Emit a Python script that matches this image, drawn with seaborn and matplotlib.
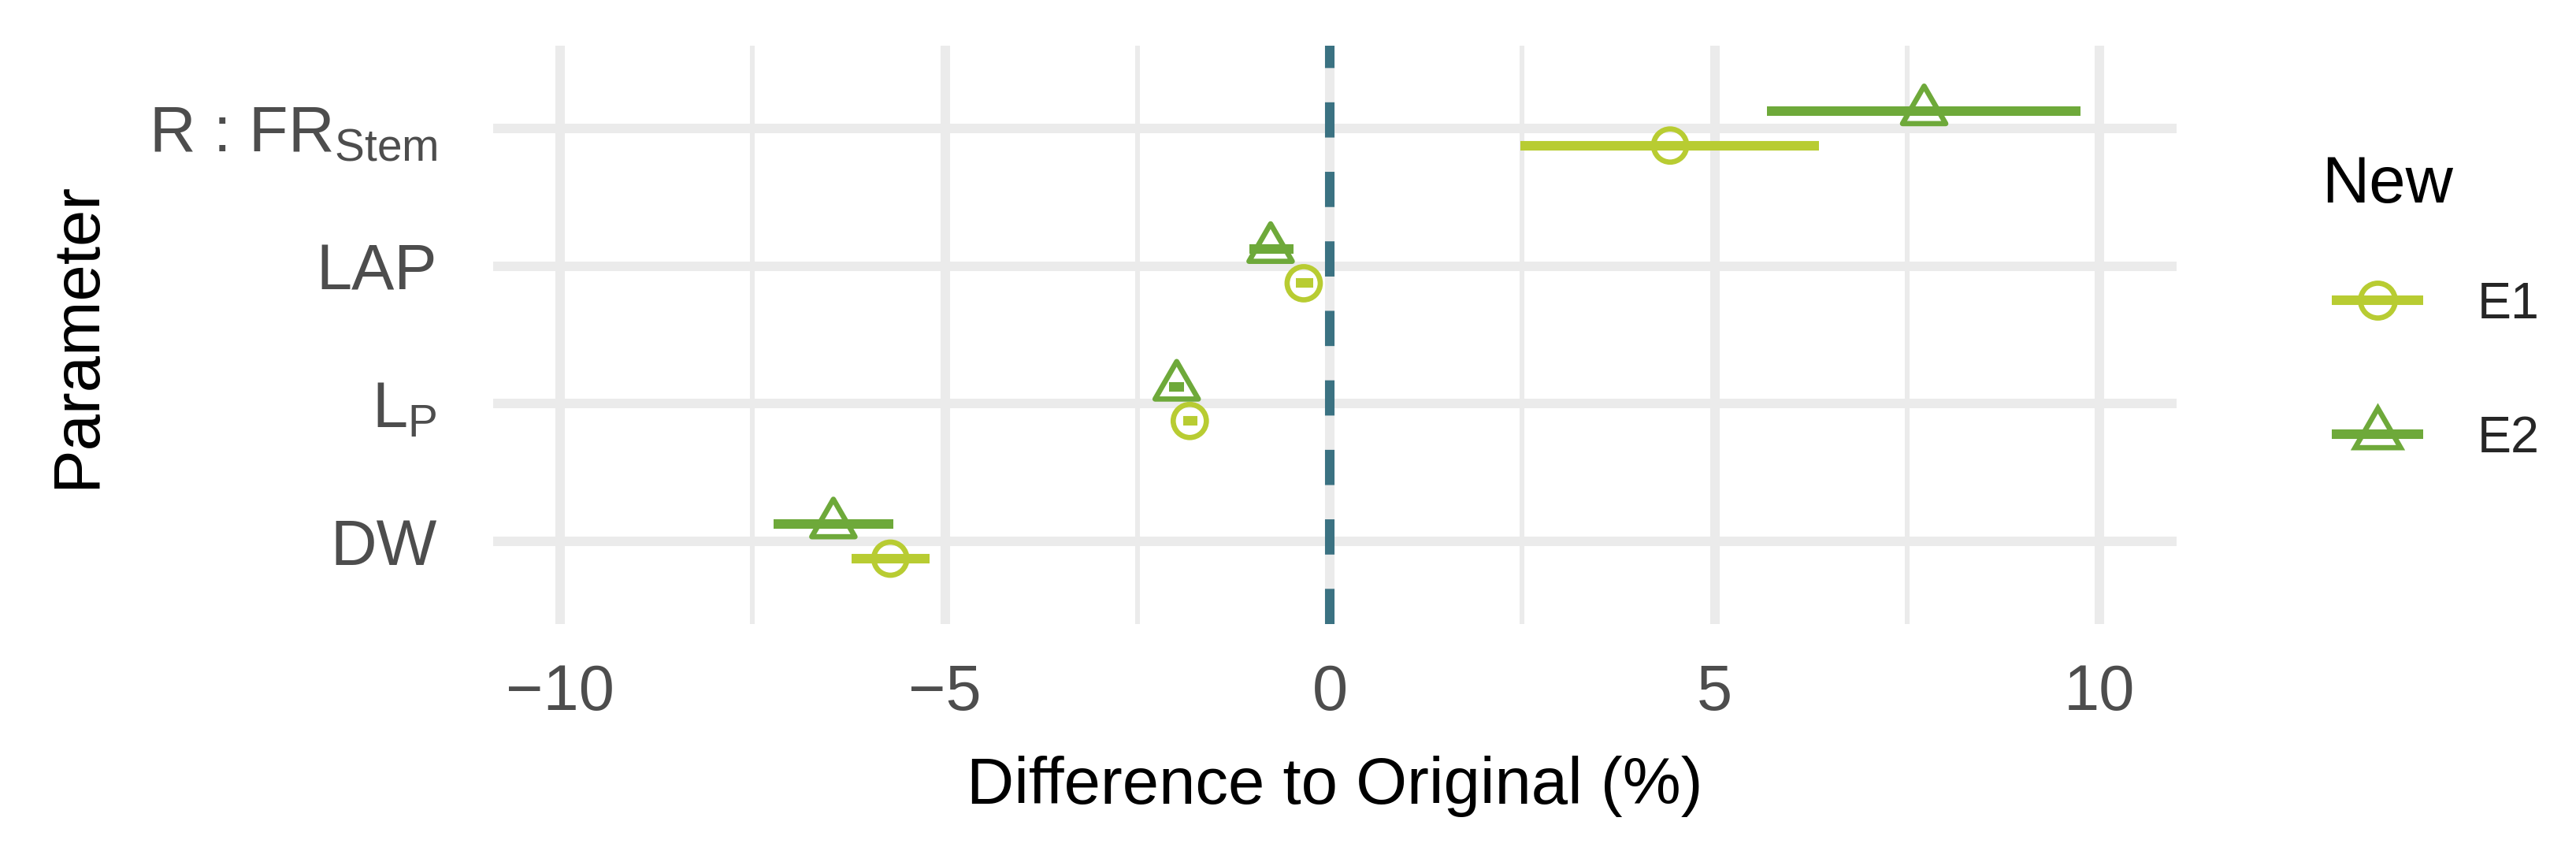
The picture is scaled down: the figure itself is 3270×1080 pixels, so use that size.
import numpy as np
import pandas as pd
import matplotlib
matplotlib.use("Agg")
import matplotlib.pyplot as plt
from matplotlib.lines import Line2D
import seaborn as sns

# ---------------- data ----------------
params = ["R : FR$_{\\mathrm{Stem}}$", "LAP", "L$_{\\mathrm{P}}$", "DW"]
series = ["E1", "E2"]
e1_mid = [4.42, -0.34, -1.82, -5.71]
e1_lo = [2.47, -0.44, -1.91, -6.21]
e1_hi = [6.35, -0.22, -1.72, -5.20]
e2_mid = [7.72, -0.77, -1.99, -6.45]
e2_lo = [5.68, -1.05, -2.09, -7.23]
e2_hi = [9.75, -0.47, -1.89, -5.67]
x_ticks = [-10, -5, 0, 5, 10]

# ---------------- style ----------------
sns.set_theme(style="white")
plt.rcParams["font.family"] = ["Liberation Sans", "DejaVu Sans"]
plt.rcParams["mathtext.fontset"] = "custom"
plt.rcParams["mathtext.rm"] = "Liberation Sans"
plt.rcParams["mathtext.it"] = "Liberation Sans:italic"
plt.rcParams["mathtext.bf"] = "Liberation Sans:bold"

colors = {"E1": "#B8CC32", "E2": "#6EA93A"}
markers = {"E1": "o", "E2": (3, 0, 0)}
sizes = {"E1": 102, "E2": 232}
offset = {"E1": 0.125, "E2": -0.125}
grid_c = "#EBEBEB"
lw = 2.9

rows = []
for s, mid, lo, hi in [("E1", e1_mid, e1_lo, e1_hi), ("E2", e2_mid, e2_lo, e2_hi)]:
    for i, p in enumerate(params):
        rows.append(dict(Parameter=p, pos=i, New=s, mid=mid[i], lo=lo[i], hi=hi[i]))
df = pd.DataFrame(rows)
df["y"] = df["pos"] + df["New"].map(offset)

W, H = 3270, 1080
fig = plt.figure(figsize=(W / 300, H / 300), dpi=300)
L, R, T, B = 626 / W, 2763 / W, 1 - 58 / H, 1 - 792 / H
ax = fig.add_axes([L, B, R - L, T - B])

# reference line
ax.axvline(0, color="#3B7282", lw=lw, ls=(0, (3.7, 3.6)), zorder=2)

for s in series:
    d = df[df["New"] == s]
    ax.hlines(d["y"], d["lo"], d["hi"], color=colors[s], lw=lw, zorder=3,
              capstyle="butt")
    sns.scatterplot(data=d, x="mid", y="y", ax=ax, marker=markers[s],
                    s=sizes[s], color=colors[s], linewidth=1.6, zorder=4,
                    legend=False)
    coll = ax.collections[-1]
    coll.set_facecolor("none")
    coll.set_edgecolor(colors[s])

ax.set_xlim(-10.87, 11.0)
ax.set_ylim(len(params) - 1 + 0.6, -0.6)
ax.set_xticks(x_ticks)
ax.set_xticklabels([f"{t}".replace("-", "\u2212") for t in x_ticks])
ax.set_xticks([-7.5, -2.5, 2.5, 7.5], minor=True)
ax.set_yticks(range(len(params)))
ax.set_yticklabels(params)
ax.grid(which="major", axis="both", color=grid_c, lw=lw, zorder=0)
ax.grid(which="minor", axis="x", color=grid_c, lw=1.45, zorder=0)
ax.set_axisbelow(True)
for sp in ax.spines.values():
    sp.set_visible(False)
ax.tick_params(axis="x", which="both", length=0, pad=12, labelsize=19.5,
               labelcolor="#4D4D4D")
ax.tick_params(axis="y", which="both", length=0, pad=17, labelsize=19.5,
               labelcolor="#4D4D4D")
ax.set_xlabel("")
ax.set_ylabel("")

fig.text((L + R) / 2, 1 - 1020 / H, "Difference to Original (%)", ha="center",
         va="baseline", fontsize=20, color="black")
fig.text(98 / W, (T + B) / 2, "Parameter", rotation=90, ha="center",
         va="center", fontsize=20, color="black")

# legend
fig.text(2947 / W, 1 - 257 / H, "New", ha="left", va="baseline", fontsize=20,
         color="black")
handles = [Line2D([0], [0], color=colors[s], lw=lw, marker=markers[s],
                  markersize=np.sqrt(sizes[s]) * 1.05, markerfacecolor="none",
                  markeredgecolor=colors[s], markeredgewidth=1.6,
                  solid_capstyle="butt")
           for s in series]
fs = 15.5
fspx = fs * 300 / 72
fig.legend(handles, series, loc="upper left",
           bbox_to_anchor=(2960 / W, 1 - 357 / H),
           frameon=False, fontsize=fs, handlelength=116 / fspx,
           handletextpad=69 / fspx, labelspacing=1.7,
           borderpad=0, borderaxespad=0, numpoints=1)

fig.savefig("out.png", dpi=300)
